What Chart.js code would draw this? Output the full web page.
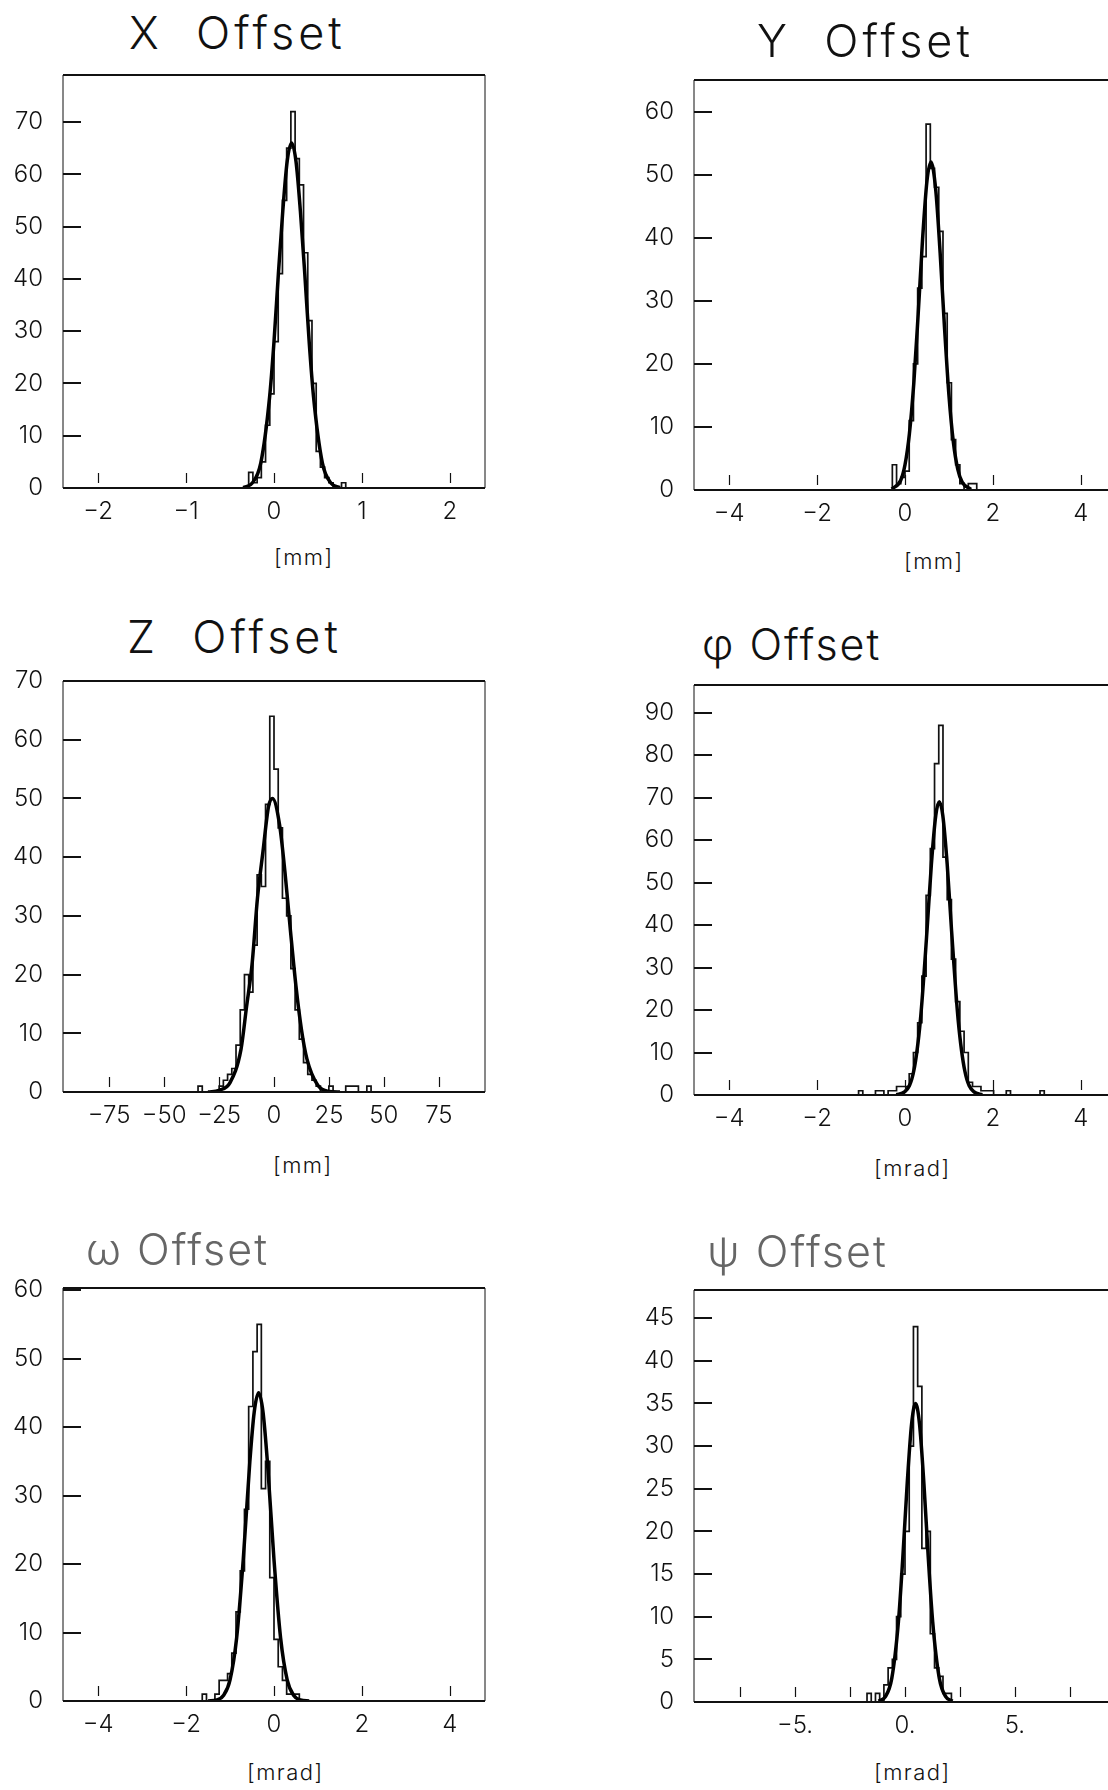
<!DOCTYPE html>
<html>
<head>
<meta charset="utf-8">
<title>Offset distributions</title>
<script src="https://cdn.jsdelivr.net/npm/chart.js@4.4.1/dist/chart.umd.min.js"></script>
<style>
  html, body { margin: 0; padding: 0; background: #fff; }
  body { position: relative; width: 1108px; height: 1790px; overflow: hidden; color: #111;
         font-family: Inter, "DejaVu Sans", sans-serif; }
  canvas { position: absolute; }
  .title { position: absolute; font-size: 45px; font-weight: 300; letter-spacing: 4px; white-space: pre; line-height: 1; }
  .title.greek { font-size: 43px; letter-spacing: 2px; }
  .unit { position: absolute; font-size: 22px; font-weight: 300; letter-spacing: 1.5px; white-space: pre; line-height: 1; }
</style>
</head>
<body>
<script>
// ---- data (counts per bin, bins start at *Start, width *Width) ----

// X Offset [mm]
const xOffsetStart = -0.288;
const xOffsetWidth = 0.048;
const xOffsetCounts = [3, 1, 2, 5, 12, 18, 28, 41, 55, 65, 72, 63, 58, 45, 32, 20, 7, 4, 2, 1, 0, 0, 1];
const xOffsetFitX = [-0.35, -0.25, -0.15, -0.05, 0.0, 0.05, 0.10, 0.15, 0.20, 0.25, 0.30, 0.35, 0.40, 0.45, 0.55, 0.65, 0.75];
const xOffsetFitY = [0.1, 0.9, 4.8, 17.4, 28, 41, 53, 62.5, 66, 62.5, 53, 41, 28, 17.4, 4.8, 0.9, 0.1];

// Y Offset [mm]
const yOffsetStart = -0.288;
const yOffsetWidth = 0.096;
const yOffsetCounts = [4, 1, 2, 3, 11, 20, 32, 37, 58, 51, 48, 41, 28, 17, 8, 4, 1, 0, 1, 1];
const yOffsetFitX = [-0.3, -0.1, 0.0, 0.1, 0.2, 0.3, 0.4, 0.5, 0.59, 0.7, 0.8, 0.9, 1.0, 1.1, 1.2, 1.3, 1.5];
const yOffsetFitY = [0.15, 1.5, 4, 8.9, 16.9, 27.9, 39.8, 49, 52, 47.5, 37.5, 25.6, 15, 7.6, 3.3, 1.25, 0.1];

// Z Offset [mm]
const zOffsetStart = -34.56;
const zOffsetWidth = 1.92;
const zOffsetCounts = [1, 0, 0, 0, 0, 1, 2, 3, 4, 8, 14, 20, 17, 25, 37, 35, 49, 64, 55, 45, 33, 30, 21, 14, 9, 5, 3, 2, 1, 0, 0, 1, 0, 0, 0, 1, 1, 1, 0, 0, 1];
const zOffsetFitX = [-30, -25, -20, -15, -12.5, -10, -7.5, -5, -2.5, -0.7, 2.5, 5, 7.5, 10, 12.5, 15, 20, 25, 30];
const zOffsetFitY = [0, 0.3, 1.6, 7.3, 14.5, 21.7, 33.1, 41, 48.6, 50, 45.6, 37.4, 27.4, 18, 10.6, 5.6, 1.1, 0.1, 0];

// phi Offset [mrad]
const phiOffsetStart = -1.056;
const phiOffsetWidth = 0.096;
const phiOffsetCounts = [1, 0, 0, 0, 1, 1, 0, 1, 1, 2, 2, 2, 5, 10, 17, 28, 47, 58, 78, 87, 56, 46, 32, 22, 15, 10, 3, 2, 2, 1, 1, 1, 0, 0, 0, 1, 0, 0, 0, 0, 0, 0, 0, 1];
const phiOffsetFitX = [-0.2, 0.0, 0.2, 0.35, 0.5, 0.6, 0.7, 0.78, 0.86, 0.96, 1.06, 1.21, 1.36, 1.56, 1.76];
const phiOffsetFitY = [0.1, 0.8, 5.7, 17.6, 38.6, 54.3, 65.8, 69, 65.8, 54.3, 38.6, 17.6, 5.7, 0.8, 0.1];

// omega Offset [mrad]
const omegaOffsetStart = -1.632;
const omegaOffsetWidth = 0.096;
const omegaOffsetCounts = [1, 0, 0, 1, 3, 3, 4, 7, 13, 19, 28, 43, 51, 55, 31, 35, 18, 9, 5, 3, 1, 1, 1];
const omegaOffsetFitX = [-1.5, -1.3, -1.15, -1.0, -0.85, -0.7, -0.55, -0.45, -0.35, -0.25, -0.15, 0.0, 0.15, 0.3, 0.45, 0.6, 0.8];
const omegaOffsetFitY = [0, 0.15, 0.8, 3.1, 9.2, 20.6, 34.9, 42.2, 45, 42.2, 34.9, 20.6, 9.2, 3.1, 0.8, 0.15, 0];

// psi Offset [mrad]
const psiOffsetStart = -1.728;
const psiOffsetWidth = 0.192;
const psiOffsetCounts = [1, 0, 1, 0, 2, 4, 5, 10, 15, 20, 30, 44, 37, 18, 20, 8, 4, 3, 1, 1];
const psiOffsetFitX = [-1.2, -0.9, -0.6, -0.3, -0.1, 0.1, 0.3, 0.48, 0.66, 0.86, 1.06, 1.26, 1.56, 1.86, 2.16];
const psiOffsetFitY = [0.1, 0.6, 2.8, 9.4, 16.9, 25.6, 32.6, 35, 32.6, 25.6, 16.9, 9.4, 2.8, 0.6, 0.1];

const panelTitles = ['X  Offset', 'Y  Offset', 'Z  Offset', '\u03c6 Offset', '\u03c9 Offset', '\u03c8 Offset'];
const panelUnits = ['[mm]', '[mm]', '[mm]', '[mrad]', '[mrad]', '[mrad]'];

// ---- layout of the six frames on the page ----
const panels = [
  { start: xOffsetStart, width: xOffsetWidth, counts: xOffsetCounts, fitX: xOffsetFitX, fitY: xOffsetFitY,
    frame: { l: 63, t: 75, r: 485, b: 488 }, xr: [-2.4, 2.4, 1], yr: [79, 10],
    title: { x: 129, y: 32 }, unit: { x: 274, y: 557 } },
  { start: yOffsetStart, width: yOffsetWidth, counts: yOffsetCounts, fitX: yOffsetFitX, fitY: yOffsetFitY,
    frame: { l: 694, t: 80, r: 1116, b: 490 }, xr: [-4.8, 4.8, 2], yr: [65, 10],
    title: { x: 757, y: 40 }, unit: { x: 904, y: 561 } },
  { start: zOffsetStart, width: zOffsetWidth, counts: zOffsetCounts, fitX: zOffsetFitX, fitY: zOffsetFitY,
    frame: { l: 63, t: 681, r: 485, b: 1092 }, xr: [-96, 96, 25], yr: [70, 10],
    title: { x: 127, y: 636 }, unit: { x: 273, y: 1165 } },
  { start: phiOffsetStart, width: phiOffsetWidth, counts: phiOffsetCounts, fitX: phiOffsetFitX, fitY: phiOffsetFitY,
    frame: { l: 694, t: 685, r: 1116, b: 1095 }, xr: [-4.8, 4.8, 2], yr: [96.5, 10],
    title: { x: 702, y: 645 }, unit: { x: 874, y: 1168 }, greek: true },
  { start: omegaOffsetStart, width: omegaOffsetWidth, counts: omegaOffsetCounts, fitX: omegaOffsetFitX, fitY: omegaOffsetFitY,
    frame: { l: 63, t: 1288, r: 485, b: 1701 }, xr: [-4.8, 4.8, 2], yr: [60.3, 10],
    title: { x: 86, y: 1250 }, unit: { x: 247, y: 1772 }, faded: true, greek: true },
  { start: psiOffsetStart, width: psiOffsetWidth, counts: psiOffsetCounts, fitX: psiOffsetFitX, fitY: psiOffsetFitY,
    frame: { l: 694, t: 1290, r: 1116, b: 1702 }, xr: [-9.6, 9.6, 2.5], yr: [48.3, 5],
    title: { x: 707, y: 1252 }, unit: { x: 874, y: 1772 }, faded: true, greek: true, dotLabels: true }
];

const AXIS_W = 63;     // room left of the frame for the count labels
const AXIS_H = 45;     // room under the frame for the x labels
const PAD_TOP = 15;
const PAD_RIGHT = 10;
const FONT = 'Inter, "DejaVu Sans", sans-serif';

// frame + inward tick marks, drawn like the old plotter output
const pawFrame = {
  id: 'pawFrame',
  afterDraw(chart) {
    const { ctx, chartArea: a, scales } = chart;
    const seg = (x1, y1, x2, y2) => { ctx.beginPath(); ctx.moveTo(x1, y1); ctx.lineTo(x2, y2); ctx.stroke(); };
    ctx.save();
    ctx.strokeStyle = '#111';
    ctx.lineWidth = 2.2;
    seg(a.left, a.top, a.right, a.top);
    seg(a.left, a.bottom, a.right, a.bottom);
    ctx.lineWidth = 1;
    seg(a.left, a.top, a.left, a.bottom);
    seg(a.right, a.top, a.right, a.bottom);
    ctx.lineWidth = 2;
    scales.y.ticks.forEach(t => {
      const y = Math.round(scales.y.getPixelForValue(t.value));
      seg(a.left, y, a.left + 18, y);
    });
    ctx.lineWidth = 1.2;
    scales.x.ticks.forEach(t => {
      const x = Math.round(scales.x.getPixelForValue(t.value)) + 0.5;
      seg(x, a.bottom - 15, x, a.bottom - 5);
    });
    ctx.restore();
  }
};

function histPoints(start, width, counts) {
  const pts = [{ x: start, y: 0 }];
  counts.forEach((c, i) => pts.push({ x: start + i * width, y: c }));
  pts.push({ x: start + counts.length * width, y: 0 });
  return pts;
}

function fmt(v) {
  return (v < 0 ? '\u2212' : '') + Math.abs(v);
}

panels.forEach((p, i) => {
  const f = p.frame;
  const canvas = document.createElement('canvas');
  canvas.width = f.r - f.l + AXIS_W + PAD_RIGHT;
  canvas.height = f.b - f.t + PAD_TOP + AXIS_H;
  canvas.style.left = (f.l - AXIS_W) + 'px';
  canvas.style.top = (f.t - PAD_TOP) + 'px';
  document.body.appendChild(canvas);

  const title = document.createElement('div');
  title.className = p.greek ? 'title greek' : 'title';
  title.textContent = panelTitles[i];
  title.style.left = p.title.x + 'px';
  title.style.top = (p.title.y - 22) + 'px';
  if (p.faded) title.style.color = '#666';
  document.body.appendChild(title);

  const unit = document.createElement('div');
  unit.className = 'unit';
  unit.textContent = panelUnits[i];
  unit.style.left = p.unit.x + 'px';
  unit.style.top = (p.unit.y - 11) + 'px';
  document.body.appendChild(unit);

  const tickFont = { family: FONT, size: 24, weight: '300' };

  new Chart(canvas, {
    type: 'line',
    data: {
      datasets: [
        {
          data: histPoints(p.start, p.width, p.counts),
          stepped: 'before',
          borderColor: '#111',
          borderWidth: 1.7,
          pointRadius: 0,
          fill: false,
          order: 2
        },
        {
          data: p.fitX.map((x, k) => ({ x: x, y: p.fitY[k] })),
          borderColor: '#000',
          borderWidth: 3.5,
          pointRadius: 0,
          cubicInterpolationMode: 'monotone',
          fill: false,
          order: 1
        }
      ]
    },
    options: {
      responsive: false,
      animation: false,
      devicePixelRatio: 1,
      layout: { padding: { top: PAD_TOP, right: PAD_RIGHT, bottom: 0, left: 0 } },
      plugins: {
        legend: { display: false },
        tooltip: { enabled: false },
        title: { display: false }
      },
      scales: {
        x: {
          type: 'linear',
          min: p.xr[0],
          max: p.xr[1],
          grid: { display: false, drawTicks: false },
          border: { display: false },
          ticks: {
            stepSize: p.xr[2],
            includeBounds: false,
            autoSkip: false,
            maxRotation: 0,
            padding: 9,
            color: '#111',
            font: tickFont,
            callback: v => p.dotLabels ? (v % 5 === 0 ? fmt(v) + '.' : '') : fmt(v)
          },
          afterFit: s => { s.height = AXIS_H; s.paddingLeft = 0; s.paddingRight = 0; }
        },
        y: {
          min: 0,
          max: p.yr[0],
          grid: { display: false, drawTicks: false },
          border: { display: false },
          ticks: {
            stepSize: p.yr[1],
            includeBounds: false,
            autoSkip: false,
            padding: 20,
            color: '#111',
            font: tickFont
          },
          afterFit: s => { s.width = AXIS_W; s.paddingTop = 0; s.paddingBottom = 0; }
        }
      }
    },
    plugins: [pawFrame]
  });
});
</script>
</body>
</html>
